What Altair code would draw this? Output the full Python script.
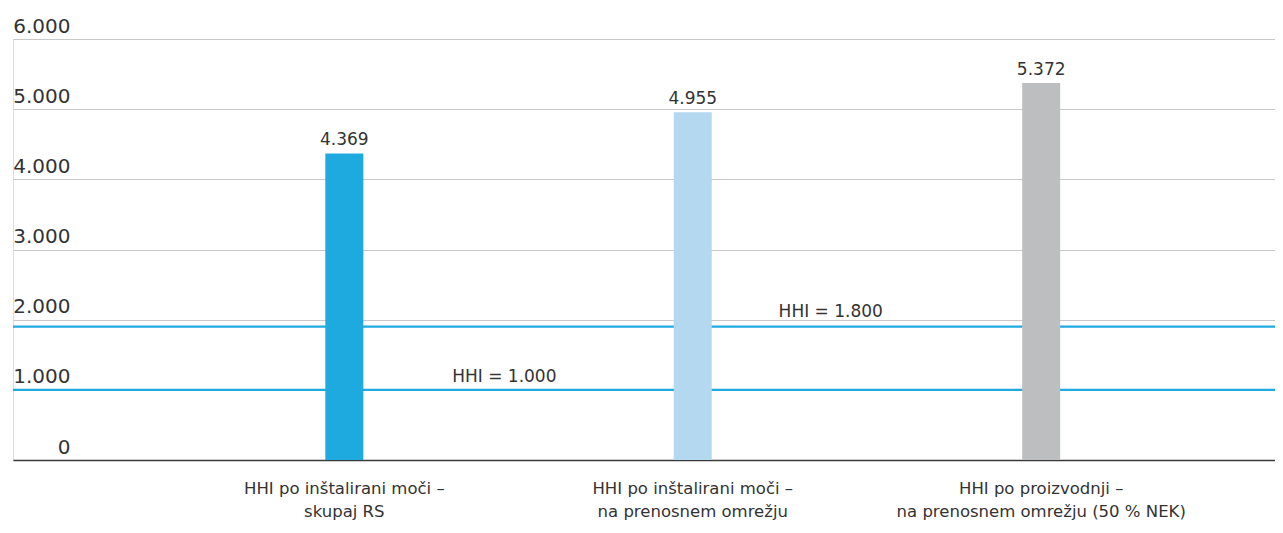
import altair as alt
import pandas as pd

# ---- data ----
categories = [
    "HHI po inštalirani moči –|skupaj RS",
    "HHI po inštalirani moči –|na prenosnem omrežju",
    "HHI po proizvodnji –|na prenosnem omrežju (50 % NEK)",
]
values = [4369, 4955, 5372]
bar_colors = ["#1eaadf", "#b3d8f0", "#bcbec0"]
threshold_values = [1000, 1900]
threshold_labels = ["HHI = 1.000", "HHI = 1.800"]
y_ticks = [0, 1000, 2000, 3000, 4000, 5000, 6000]

FONT = "DejaVu Sans"
TXT = "#333333"
LINE = "#1eaadf"

bars_df = pd.DataFrame({"cat": categories, "value": values, "color": bar_colors})
thr_df = pd.DataFrame({"value": threshold_values, "label": threshold_labels,
                       "cat": categories[:2]})

x_scale = alt.Scale(domain=categories, paddingInner=0, paddingOuter=0.311, align=0.725)
y_scale = alt.Scale(domain=[0, 6000], nice=False)

x_enc = alt.X(
    "cat:N", scale=x_scale, sort=categories, title=None,
    axis=alt.Axis(
        labelExpr="split(datum.label, '|')", labelAngle=0, labelFont=FONT,
        labelFontSize=16.5, labelColor=TXT, labelLineHeight=23, labelPadding=20,
        ticks=False, domain=True, domainColor="#3a3a3a", domainWidth=1.5,
        grid=False, labelLimit=400,
    ),
)
y_enc = alt.Y(
    "value:Q", scale=y_scale, title=None,
    axis=alt.Axis(
        values=y_ticks, labelExpr="replace(format(datum.value, ','), ',', '.')",
        labelFont=FONT, labelFontSize=20, labelColor=TXT, labelAlign="right",
        labelBaseline="alphabetic", labelOffset=-7, labelPadding=-57,
        ticks=False, tickSize=0, domain=False, grid=True, gridColor="#c8c8c8",
        gridWidth=1.2,
    ),
)

base = alt.Chart(bars_df)

rules = alt.Chart(thr_df).mark_rule(color=LINE, strokeWidth=2.2).encode(
    y=alt.Y("value:Q", scale=y_scale)
)

bars = base.mark_bar(size=38).encode(
    x=x_enc, y=y_enc, color=alt.Color("color:N", scale=None)
)

vals = base.transform_calculate(
    txt="replace(format(datum.value, ','), ',', '.')"
).mark_text(font=FONT, fontSize=17, color=TXT, baseline="alphabetic", dy=-8).encode(
    x=alt.X("cat:N", scale=x_scale, sort=categories),
    y=alt.Y("value:Q", scale=y_scale),
    text="txt:N",
)

thr1 = alt.Chart(thr_df).transform_filter(alt.datum.value == threshold_values[0]).mark_text(
    font=FONT, fontSize=17, color=TXT, baseline="alphabetic", dy=-8, dx=160
).encode(
    x=alt.X("cat:N", scale=x_scale, sort=categories),
    y=alt.Y("value:Q", scale=y_scale),
    text="label:N",
)
thr2 = alt.Chart(thr_df).transform_filter(alt.datum.value == threshold_values[1]).mark_text(
    font=FONT, fontSize=17, color=TXT, baseline="alphabetic", dy=-10, dx=138
).encode(
    x=alt.X("cat:N", scale=x_scale, sort=categories),
    y=alt.Y("value:Q", scale=y_scale),
    text="label:N",
)

chart = alt.layer(rules, bars, vals, thr1, thr2).properties(
    width=1262, height=421,
    autosize=alt.AutoSizeParams(type="none"),
    padding={"left": 5, "top": 31, "right": 0, "bottom": 60},
).configure_view(stroke=None).configure(background="white")

chart.save("out.html", embed_options={"renderer": "svg", "actions": False})
